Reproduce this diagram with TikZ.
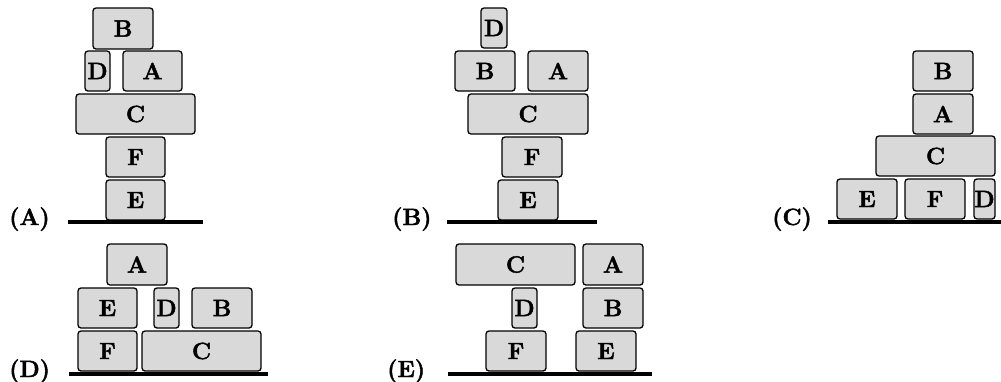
\documentclass[tikz,border=0pt]{standalone}
\usepackage{tikz}
\definecolor{blockfill}{RGB}{217,217,217}
% heavy bold letters: fill and stroke the glyph outlines
\newcommand{\heavy}[1]{\special{pdf:literal direct 2 Tr 0.45 w}#1\special{pdf:literal direct 0 Tr}}
\newcommand{\bigbold}{\fontsize{23.5}{25}\selectfont\bfseries}
\tikzset{
  blk/.style={draw=black, fill=blockfill, line width=1.3pt, rounded corners=3pt,
    inner sep=0pt, font=\bigbold},
  ground/.style={line width=3.5pt, black},
  panellabel/.style={anchor=base west, inner sep=0pt, font=\bigbold}
}
% \blk{name}{x1}{y1}{x2}{y2}{letter}: a block given by its corner coordinates
\newcommand{\blk}[6]{%
  \pgfmathsetmacro{\bw}{#4-#2}\pgfmathsetmacro{\bh}{#5-#3}%
  \node[blk, minimum width=\bw pt, minimum height=\bh pt] (#1) at ({(#2+#4)/2},{(#3+#5)/2}) {\heavy{#6}};}
\begin{document}
\begin{tikzpicture}[x=1pt,y=-1pt]
\useasboundingbox (0,0) rectangle (1001,381);

% (A)
\blk{aB}{93}{8}{153}{49}{B}
\blk{aD}{85}{51}{110}{91}{D}
\blk{aA}{123}{51}{182}{91}{A}
\blk{aC}{76}{94}{195}{134}{C}
\blk{aF}{106}{137}{165}{177}{F}
\blk{aE}{106}{180}{165}{220}{E}
\draw[ground] (68,222) -- (203,222);
\node[panellabel] (labA) at (9,225) {\heavy{(A)}};

% (B)
\blk{bD}{481}{8}{507}{48}{D}
\blk{bB}{455}{51}{515}{91}{B}
\blk{bA}{528}{51}{588}{91}{A}
\blk{bC}{468}{94}{588}{134}{C}
\blk{bF}{502}{137}{562}{177}{F}
\blk{bE}{498}{180}{558}{220}{E}
\draw[ground] (447,222) -- (597,222);
\node[panellabel] (labB) at (392,225) {\heavy{(B)}};

% (C)
\blk{cB}{913}{51}{973}{91}{B}
\blk{cA}{913}{94}{973}{134}{A}
\blk{cC}{876}{136}{995}{176}{C}
\blk{cE}{837}{179}{897}{219}{E}
\blk{cF}{905}{179}{965}{219}{F}
\blk{cD}{974}{179}{995}{219}{D}
\draw[ground] (828,222) -- (1001,222);
\node[panellabel] (labC) at (772,225) {\heavy{(C)}};

% (D)
\blk{dA}{107}{244}{167}{285}{A}
\blk{dE}{78}{288}{137}{328}{E}
\blk{dD}{154}{288}{179}{328}{D}
\blk{dB}{192}{288}{252}{328}{B}
\blk{dF}{78}{331}{137}{371}{F}
\blk{dC}{142}{331}{261}{371}{C}
\draw[ground] (69,374) -- (268,374);
\node[panellabel] (labD) at (9,377) {\heavy{(D)}};

% (E)
\blk{eC}{456}{244}{575}{285}{C}
\blk{eA}{583}{244}{643}{285}{A}
\blk{eD}{512}{288}{537}{328}{D}
\blk{eB}{583}{288}{643}{328}{B}
\blk{eF}{486}{331}{546}{371}{F}
\blk{eE}{576}{331}{636}{371}{E}
\draw[ground] (448,374) -- (652,374);
\node[panellabel] (labE) at (387,377) {\heavy{(E)}};
\end{tikzpicture}
\end{document}
